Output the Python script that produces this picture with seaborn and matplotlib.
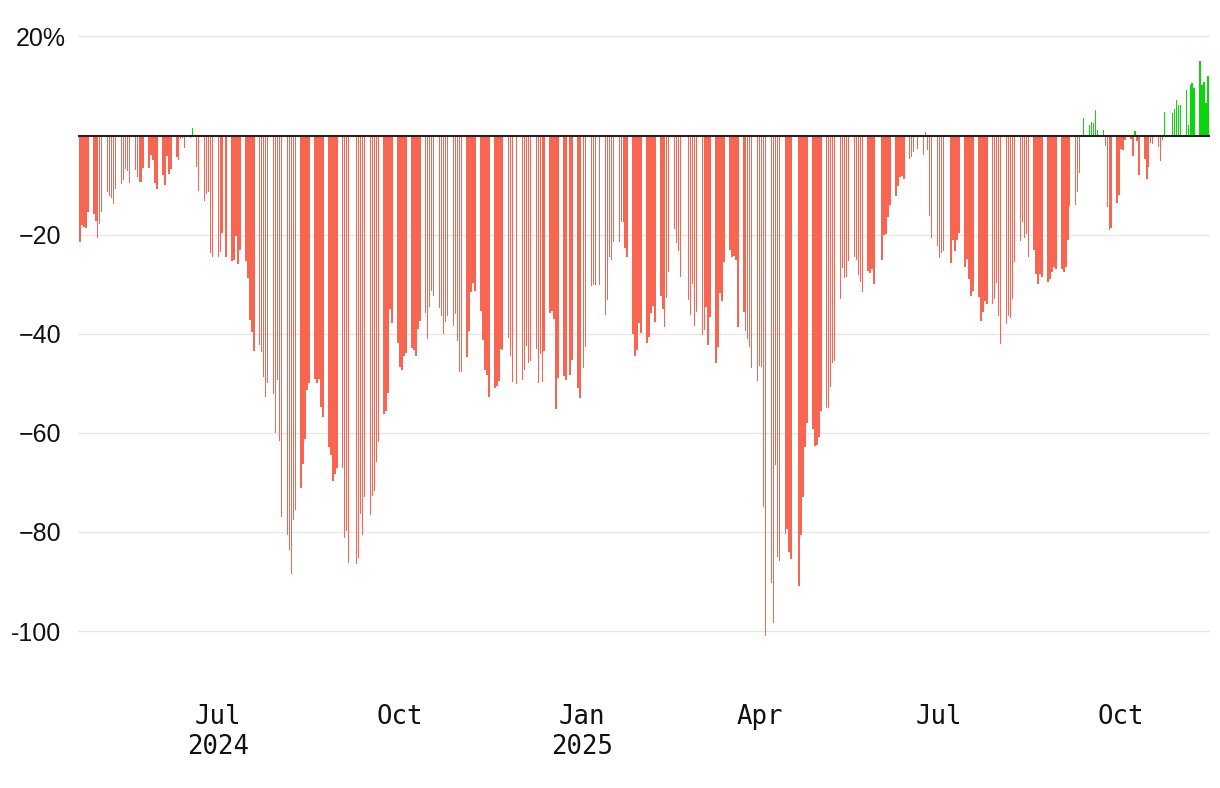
import numpy as np
import pandas as pd
import matplotlib
matplotlib.use("Agg")
import matplotlib.pyplot as plt
import matplotlib.dates as mdates
import seaborn as sns

## daily % change, one row per trading week (Mon..Fri), nan = no bar
start = "2024-04-22"

q2_2024 = [
    [-21.5, -18.0, -18.5, -18.7, -15.5],
    [-15.9, -17.3, -20.7, -17.9, -15.5],
    [-11.3, -12.3, -12.6, -13.9, -10.7],
    [-9.7, -8.9, -6.8, -7.2, -9.5],
    [-7.0, -8.3, -9.3, -9.3, -6.6],
    [-6.6, -4.0, -5.0, -9.5, -10.7],
    [-7.9, -9.9, -4.2, -7.7, -6.8],
    [-4.4, -5.0, -0.7, -0.5, -2.6],
    [-0.5, 1.5, np.nan, -6.4, -11.1],
    [-13.3, -11.7, -11.3, -23.8, -24.6],
]
q3_2024 = [
    [-24.6, -23.6, -19.7, np.nan, -24.6],
    [-25.4, -25.2, -20.3, -26.0, -23.0],
    [-25.4, -28.8, -37.2, -39.7, -43.5],
    [-42.3, -43.7, -48.7, -52.7, -49.9],
    [-52.1, -60.0, -49.4, -61.6, -76.9],
    [-80.7, -83.6, -88.4, -77.5, -75.5],
    [-71.1, -66.2, -61.2, -51.3, -49.9],
    [-49.1, -49.9, -49.1, -54.8, -56.8],
    [-62.8, -64.4, -69.7, -68.3, -67.0],
    [-67.0, -81.3, -79.8, -86.2, np.nan],
    [-86.4, -85.2, -76.4, -80.7, -72.9],
    [-76.5, -72.7, -71.7, -65.8, -61.8],
    [-56.2, -55.6, -52.0, -35.1, -37.9],
]
q4_2024 = [
    [-41.9, -46.7, -47.3, -44.5, -43.9],
    [-42.8, -43.3, -44.5, -39.1, -37.4],
    [-35.8, -41.1, -34.6, -31.4, -32.4],
    [-34.8, -36.4, -40.1, -37.7, -36.4],
    [-38.5, -36.0, -41.5, -47.7, -47.7],
    [-44.7, -39.5, -31.6, -29.8, -31.4],
    [-35.4, -41.3, -47.3, -48.3, -52.8],
    [-50.9, -50.5, -49.5, -43.1, -43.3],
    [-40.9, -44.5, -49.7, np.nan, -50.1],
    [-49.3, -47.3, -42.5, -45.9, -45.5],
    [-43.1, -49.9, -44.1, -49.7, -43.5],
    [-35.8, -35.4, -37.0, -55.2, -48.9],
    [-48.5, -49.3, np.nan, -48.3, -45.3],
]
q1_2025 = [
    [-50.9, -53.0, np.nan, -46.9, -42.7],
    [-30.4, -30.2, -30.2, np.nan, -30.2],
    [-36.2, -33.1, -24.6, -25.2, -21.5],
    [-21.5, -17.5, -17.5, -22.6, -24.6],
    [-40.1, -44.5, -43.3, -37.9, -39.9],
    [-41.9, -40.7, -35.8, -34.4, -37.7],
    [-32.4, -35.0, -38.7, -32.8, -27.6],
    [-18.9, -21.7, -23.2, -28.6, np.nan],
    [-33.1, -36.2, -30.0, -38.5, -35.6],
    [-40.3, -39.3, -34.6, -42.3, -36.6],
    [-45.9, -42.7, -31.8, -33.4, -25.6],
    [-23.0, -24.6, -24.4, -25.2, -38.7],
    [-35.6, -39.5, -41.1, -42.7, -46.9],
]
q2_2025 = [
    [-49.5, -46.5, -46.7, -74.9, -100.9],
    [-90.2, -98.3, -66.4, -85.0, -85.8],
    [-80.5, -79.5, -84.0, -85.4, np.nan],
    [-91.0, -80.7, -72.9, -62.8, -58.0],
    [-59.2, -62.6, -62.4, -60.8, -55.5],
    [-55.0, -55.0, -50.8, -46.0, -45.5],
    [-33.0, -26.8, -28.8, -28.6, -25.4],
    [-24.6, -25.2, -28.2, -29.6, -31.6],
    [-27.4, -27.8, -27.0, -30.0, np.nan],
    [-25.2, -20.1, -19.9, -16.5, -14.1],
    [-12.1, -10.1, -8.3, -8.1, -8.7],
    [-4.8, -4.4, -3.4, np.nan, -2.8],
    [-4.0, 0.7, -3.0, -16.3, -20.7],
]
q3_2025 = [
    [-22.3, -24.8, -23.8, -23.4, np.nan],
    [-25.8, -21.1, -23.4, -21.1, -19.7],
    [-26.6, -25.0, -29.0, -32.4, -31.4],
    [-32.6, -37.4, -35.6, -33.4, -34.0],
    [-34.0, -33.0, -29.8, -36.4, -42.1],
    [-38.0, -36.5, -36.8, -33.0, -25.5],
    [-21.2, -17.4, -20.6, -19.8, -24.5],
    [-23.0, -28.0, -30.0, -28.0, -28.5],
    [-29.5, -29.0, -27.5, -26.5, -27.0],
    [-27.0, -27.5, -26.5, -21.0, -14.3],
    [-14.1, -11.3, -7.5, -0.3, 3.6],
    [2.2, 2.8, 2.6, 5.2, 1.1],
    [1.1, -2.2, -14.5, -19.0, -18.6],
]
q4_2025 = [
    [-13.7, -11.9, -2.8, -3.0, -0.8],
    [-0.6, -4.2, 0.9, -1.2, -7.9],
    [-4.8, -8.7, -6.3, -1.6, -1.8],
    [-2.4, -5.1, -0.8, 4.8, np.nan],
    [4.6, 5.4, 7.2, 6.2, 6.2],
    [9.2, 2.2, 10.2, 10.6, 9.6],
    [15.1, 10.2, 10.8, 6.6, 12.1],
]

tick_dates = ["2024-07-01", "2024-10-01", "2025-01-01", "2025-04-01", "2025-07-01", "2025-10-01"]
tick_labels = ["Jul\n2024", "Oct", "Jan\n2025", "Apr", "Jul", "Oct"]
y_ticks = [20, -20, -40, -60, -80, -100]
y_labels = ["", "\u221220", "\u221240", "\u221260", "\u221280", "-100"]
top_label = "20%"

RED = "#f86652"
GREEN = "#0bd60b"

values = np.concatenate([np.ravel(q) for q in [q2_2024, q3_2024, q4_2024, q1_2025, q2_2025, q3_2025, q4_2025]])
dates = pd.bdate_range(start, periods=len(values))

df = pd.DataFrame({"day": mdates.date2num(dates), "chg": values})
df = df.dropna()
df["dir"] = np.where(df["chg"] >= 0, "up", "down")

sns.set_theme(style="white")
plt.rcParams["font.family"] = ["Liberation Sans", "DejaVu Sans"]

fig = plt.figure(figsize=(12.2, 7.88), dpi=100)
ax = fig.add_axes([78 / 1220, 1 - 693 / 788, (1210 - 78) / 1220, (693 - 30) / 788])

sns.barplot(data=df, x="day", y="chg", hue="dir", palette={"up": GREEN, "down": RED},
            native_scale=True, dodge=False, width=0.75, linewidth=0, errorbar=None,
            saturation=1, legend=False, ax=ax, zorder=2)

ax.set_xlim(mdates.date2num(pd.Timestamp("2024-04-21")), mdates.date2num(pd.Timestamp("2025-11-15")))
ax.set_ylim(-112.5, 21.3)

ax.set_yticks(y_ticks)
ax.set_yticklabels(y_labels, fontsize=18, color="#111111")
ax.grid(axis="y", color="#e6e6e6", lw=1.0, zorder=0)
ax.grid(axis="x", visible=False)
ax.axhline(0, color="#222222", lw=1.5, zorder=3)

# top label: the % sign hangs past the right edge of the other labels
ax.text(-12 / 1132, y_ticks[0], top_label, transform=ax.get_yaxis_transform(),
        ha="right", va="center_baseline", fontsize=18, color="#111111")

ax.set_xticks(mdates.date2num(pd.to_datetime(tick_dates)))
ax.set_xticklabels(tick_labels, fontsize=18.5, family="DejaVu Sans Mono", color="#111111")
ax.tick_params(axis="both", length=0)
ax.tick_params(axis="x", pad=8)
ax.tick_params(axis="y", pad=12)

ax.set_xlabel("")
ax.set_ylabel("")
sns.despine(ax=ax, left=True, bottom=True)

fig.savefig("out.png", dpi=100)
